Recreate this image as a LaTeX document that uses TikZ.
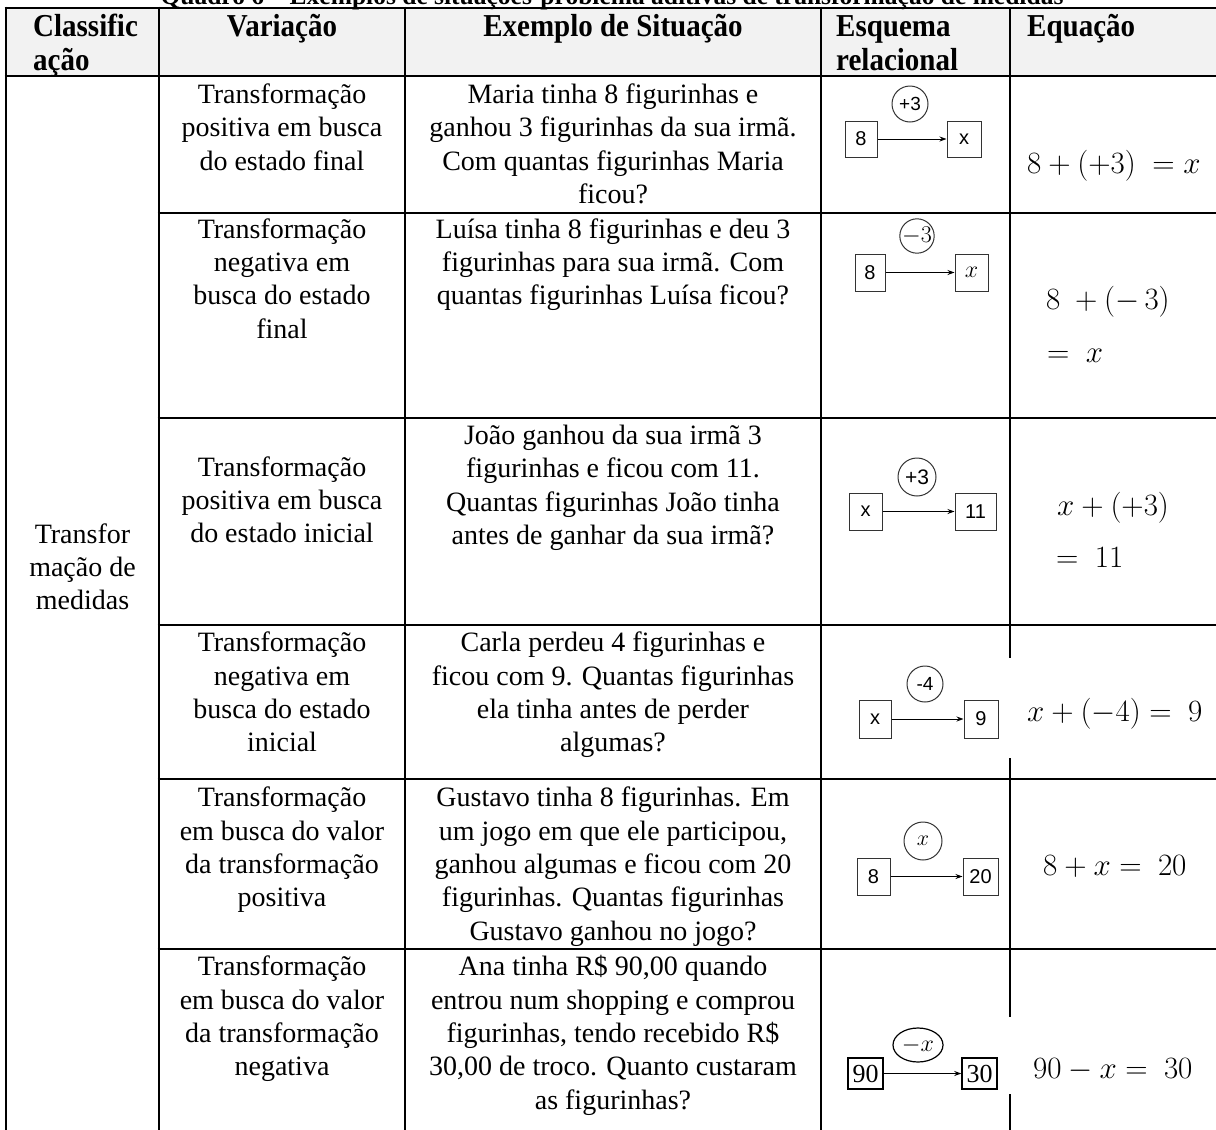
\RequirePackage{fix-cm}
\documentclass[tikz,border=0pt]{standalone}
\usepackage{fontspec}
\setmainfont{Liberation Serif}
\setsansfont{Liberation Sans}
\usetikzlibrary{arrows.meta,shapes.geometric}
\definecolor{hdrgray}{HTML}{F2F2F2}
\newcommand{\bodyfont}{\fontsize{28}{33.4}\selectfont}
\newcommand{\eqfont}{\fontsize{31}{36}\selectfont}
\newcommand{\hdrfont}{\fontsize{29}{34}\selectfont\bfseries}
\newcommand{\titlefont}{\fontsize{25.5}{30}\selectfont\bfseries}
\newcommand{\tallhdr}[1]{\scalebox{1}[1.1]{#1}}
\tikzset{
  gridline/.style={line width=2.6pt},
  hdr/.style={font=\hdrfont, inner sep=0},
  cell/.style={font=\bodyfont, align=center, anchor=north, inner sep=0},
  eq/.style={font=\eqfont, anchor=base west, inner sep=0},
  sq/.style={draw=black!80, line width=1pt, inner sep=0, font=\sffamily\fontsize{20}{20}\selectfont},
  sqserif/.style={draw=black, line width=1.4pt, inner sep=0, font=\fontsize{26}{26}\selectfont},
  circ/.style={draw=black!80, line width=1pt, circle, inner sep=0, font=\sffamily\fontsize{19}{19}\selectfont},
  flow/.style={line width=0.9pt, -{Stealth[length=7pt,width=5pt]}},
}
\begin{document}
\begin{tikzpicture}[x=1pt,y=-1pt]
\useasboundingbox (0,0) rectangle (1216,1130);
\clip (0,0) rectangle (1216,1130);
\fill[white] (0,0) rectangle (1216,1130);
\fill[hdrgray] (6,8) rectangle (1216,76);

% title (cut at top, as in the source)
\node[font=\titlefont, anchor=base, inner sep=0] (title) at (612,4.5) {Quadro 6 – Exemplos de situações-problema aditivas de transformação de medidas};

% grid
\draw[gridline] (4.7,8) -- (1216,8);
\draw[gridline] (4.7,76) -- (1216,76);
\foreach \yy in {213,418,625,779,949}
  \draw[gridline] (157.7,\yy) -- (1216,\yy);
\draw[gridline] (6,6.7) -- (6,1130);
\draw[gridline] (159,6.7) -- (159,1130);
\draw[gridline] (405,6.7) -- (405,1130);
\draw[gridline] (821,6.7) -- (821,1130);
\draw[gridline] (1010,6.7) -- (1010,658);
\draw[gridline] (1010,758) -- (1010,1017);
\draw[gridline] (1010,1094) -- (1010,1130);

% header
\node[hdr, anchor=north west, align=left] (hclass) at (33,12.2) {\strut\tallhdr{Classific}\\\tallhdr{ação}};
\node[hdr, anchor=north] (hvar) at (282,12.2) {\strut\tallhdr{Variação}};
\node[hdr, anchor=north] (hex) at (613,12.2) {\strut\tallhdr{Exemplo de Situação}};
\node[hdr, anchor=north west, align=left] (hesq) at (836,12.2) {\strut\tallhdr{Esquema}\\\tallhdr{relacional}};
\node[hdr, anchor=north west] (heq) at (1027,12.2) {\strut\tallhdr{Equação}};

% column 1
\node[cell] (c1) at (82.5,519.6) {\strut Transfor\\mação de\\medidas};

% column 2
\node[cell] (v1) at (282,79.9) {\strut Transformação\\positiva em busca\\do estado final};
\node[cell] (v2) at (282,214.6) {\strut Transformação\\negativa em\\busca do estado\\final};
\node[cell] (v3) at (282,452.6) {\strut Transformação\\positiva em busca\\do estado inicial};
\node[cell] (v4) at (282,628.1) {\strut Transformação\\negativa em\\busca do estado\\inicial};
\node[cell] (v5) at (282,783.1) {\strut Transformação\\em busca do valor\\da transformação\\positiva};
\node[cell] (v6) at (282,952.1) {\strut Transformação\\em busca do valor\\da transformação\\negativa};

% column 3
\node[cell] (e1) at (613,79.9) {\strut Maria tinha 8 figurinhas e\\ganhou 3 figurinhas da sua irmã.\\Com quantas figurinhas Maria\\ficou?};
\node[cell] (e2) at (613,214.6) {\strut Luísa tinha 8 figurinhas e deu 3\\figurinhas para sua irmã. Com\\quantas figurinhas Luísa ficou?};
\node[cell] (e3) at (613,421) {\strut João ganhou da sua irmã 3\\figurinhas e ficou com 11.\\Quantas figurinhas João tinha\\antes de ganhar da sua irmã?};
\node[cell] (e4) at (613,628.1) {\strut Carla perdeu 4 figurinhas e\\ficou com 9. Quantas figurinhas\\ela tinha antes de perder\\algumas?};
\node[cell] (e5) at (613,783.1) {\strut Gustavo tinha 8 figurinhas. Em\\um jogo em que ele participou,\\ganhou algumas e ficou com 20\\figurinhas. Quantas figurinhas\\Gustavo ganhou no jogo?};
\node[cell] (e6) at (613,952.1) {\strut Ana tinha R\$ 90,00 quando\\entrou num shopping e comprou\\figurinhas, tendo recebido R\$\\30,00 de troco. Quanto custaram\\as figurinhas?};

% schemas
% row 1
\node[sq, minimum width=32pt, minimum height=36pt] (s1a) at (861,139) {8};
\node[sq, minimum width=34pt, minimum height=36pt] (s1b) at (964,139) {x};
\node[circ, minimum size=36pt] (s1t) at (910,104) {+3};
\draw[flow] (s1a) -- (s1b);
% row 2
\node[sq, minimum width=30pt, minimum height=37pt] (s2a) at (870,272.5) {8};
\node[sq, minimum width=33pt, minimum height=37pt, font=\fontsize{24}{24}\selectfont] (s2b) at (971.5,272.5) {$x$};
\node[circ, minimum size=34pt, font=\fontsize{24}{24}\selectfont] (s2t) at (917,236) {$-3$};
\draw[flow] (s2a) -- (s2b);
% row 3
\node[sq, minimum width=33pt, minimum height=37pt] (s3a) at (865.5,511.5) {x};
\node[sq, minimum width=41pt, minimum height=37pt] (s3b) at (975.5,511.5) {11};
\node[circ, minimum size=38pt, font=\sffamily\fontsize{21}{21}\selectfont] (s3t) at (917,477) {+3};
\draw[flow] (s3a) -- (s3b);
% row 4
\node[sq, minimum width=32pt, minimum height=38pt] (s4a) at (875,719) {x};
\node[sq, minimum width=34pt, minimum height=38pt] (s4b) at (981,719) {9};
\node[circ, minimum size=36pt] (s4t) at (925,684) {-4};
\draw[flow] (s4a) -- (s4b);
% row 5
\node[sq, minimum width=33pt, minimum height=37pt] (s5a) at (873.5,876.5) {8};
\node[sq, minimum width=35pt, minimum height=37pt] (s5b) at (980.5,876.5) {20};
\node[circ, minimum size=38pt, font=\fontsize{22}{22}\selectfont] (s5t) at (923,841) {$x$};
\draw[flow] (s5a) -- (s5b);
% row 6
\node[sqserif, minimum width=35pt, minimum height=31pt] (s6a) at (865.5,1073.5) {90};
\node[sqserif, minimum width=35pt, minimum height=31pt] (s6b) at (979.5,1073.5) {30};
\node[draw=black, line width=1.2pt, ellipse, inner sep=0, minimum width=50pt, minimum height=34pt, font=\fontsize{24}{24}\selectfont] (s6t) at (918,1045) {$-x$};
\draw[flow, line width=1.2pt] (s6a) -- (s6b);

% equations
\node[eq] (q1) at (1027,173) {$8+(+3)\ =x$};
\node[eq] (q2a) at (1046,309) {$8\ +(-\,3)$};
\node[eq] (q2b) at (1047,362) {$=\ x$};
\node[eq] (q3a) at (1057,515) {$x+(+3)$};
\node[eq] (q3b) at (1056,567) {$=\ 11$};
\node[eq] (q4) at (1027,721) {$x+(-4)=\ 9$};
\node[eq] (q5) at (1043,875) {$8+x=\ 20$};
\node[eq] (q6) at (1033,1078) {$90-x=\ 30$};
\end{tikzpicture}
\end{document}
